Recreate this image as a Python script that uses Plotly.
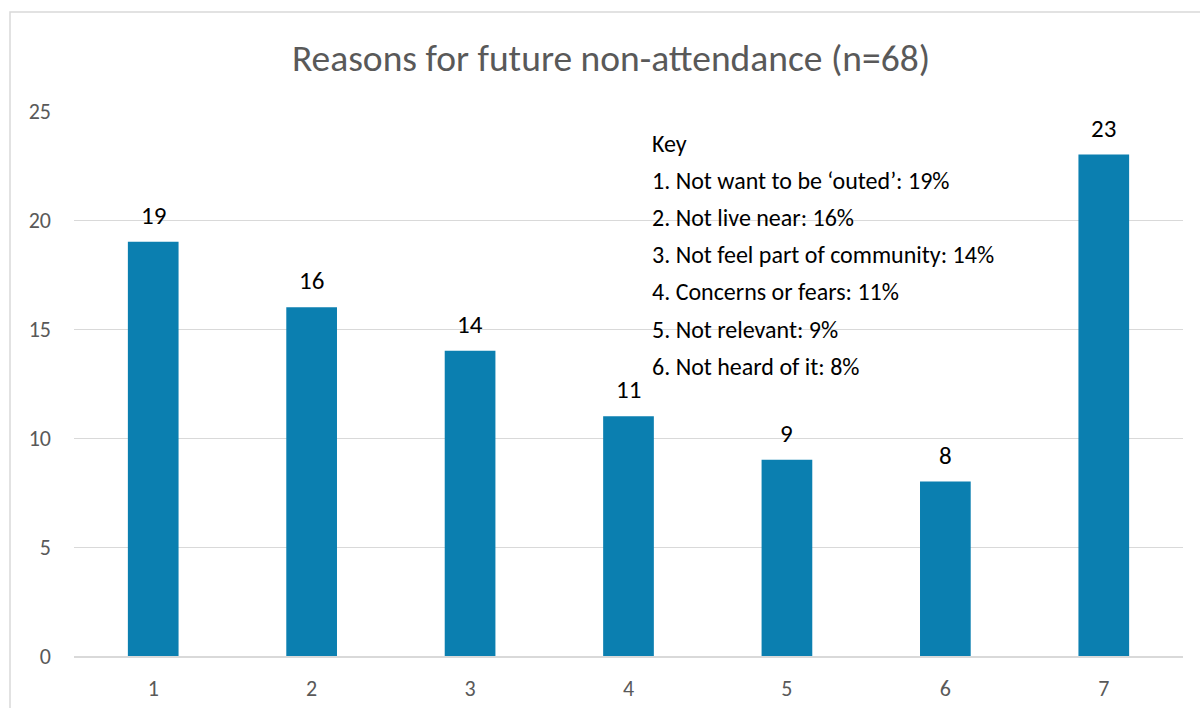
import plotly.graph_objects as go

# Survey results: reasons for future non-attendance
categories = [1, 2, 3, 4, 5, 6, 7]
counts = [19, 16, 14, 11, 9, 8, 23]
key_lines = [
    "Key",
    "1. Not want to be \u2018outed\u2019: 19%",
    "2. Not live near: 16%",
    "3. Not feel part of community: 14%",
    "4. Concerns or fears: 11%",
    "5. Not relevant: 9%",
    "6. Not heard of it: 8%",
]
y_ticks = [0, 5, 10, 15, 20, 25]

FONT = "Carlito, Calibri, Lato, sans-serif"
BAR_COLOR = "#0B7FB0"
GRID = "#D9D9D9"
TICK_COLOR = "#595959"

W, H = 1200, 708
M_L, M_R, M_T, M_B = 74, 17, 111, 52
PW, PH = W - M_L - M_R, H - M_T - M_B

fig = go.Figure()
fig.add_trace(go.Bar(
    x=categories, y=counts, width=0.32,
    marker=dict(color=BAR_COLOR, line=dict(width=0)),
    hoverinfo="x+y",
))

# value labels above each bar
for c, v in zip(categories, counts):
    fig.add_annotation(x=c, y=v, text=str(v), showarrow=False,
                       yanchor="bottom", yshift=9,
                       font=dict(family=FONT, size=25, color="#000000"))

# key text block, one annotation per line
key_x = (650 - M_L) / PW
key_top = 143
key_step = 37.2
for i, line in enumerate(key_lines):
    ypx = key_top + i * key_step
    fig.add_annotation(xref="paper", yref="paper", x=key_x,
                       y=(H - M_B - ypx) / PH, text=line, showarrow=False,
                       xanchor="left", yanchor="middle",
                       font=dict(family=FONT, size=24, color="#000000"))

# outer chart border
fig.add_shape(type="rect", xref="paper", yref="paper",
              x0=(10 - M_L) / PW, x1=(1215 - M_L) / PW,
              y0=(H - M_B - 730) / PH, y1=(H - M_B - 12) / PH,
              line=dict(color=GRID, width=1.5), fillcolor="rgba(0,0,0,0)",
              layer="below")

fig.update_layout(
    width=W, height=H,
    margin=dict(l=M_L, r=M_R, t=M_T, b=M_B, pad=0, autoexpand=False),
    paper_bgcolor="white", plot_bgcolor="white",
    showlegend=False,
    title=dict(text="Reasons for future non-attendance (n=68)",
               x=611 / W, xanchor="center", y=1 - 58 / H, yanchor="middle",
               font=dict(family=FONT, size=37.5, color=TICK_COLOR)),
)
fig.update_xaxes(
    range=[0.5, 7.5], tickvals=categories, showgrid=False,
    showline=True, linecolor=GRID, linewidth=1.5, zeroline=False,
    ticks="", tickfont=dict(family=FONT, size=22, color=TICK_COLOR),
    ticklabelstandoff=12, automargin=False,
)
fig.update_yaxes(
    range=[0, 25], tickvals=y_ticks, showgrid=True, gridcolor=GRID, gridwidth=1,
    zeroline=False, showline=False, ticks="",
    tickfont=dict(family=FONT, size=22, color=TICK_COLOR),
    ticklabelstandoff=22, automargin=False,
)

fig.write_html("out.html")
